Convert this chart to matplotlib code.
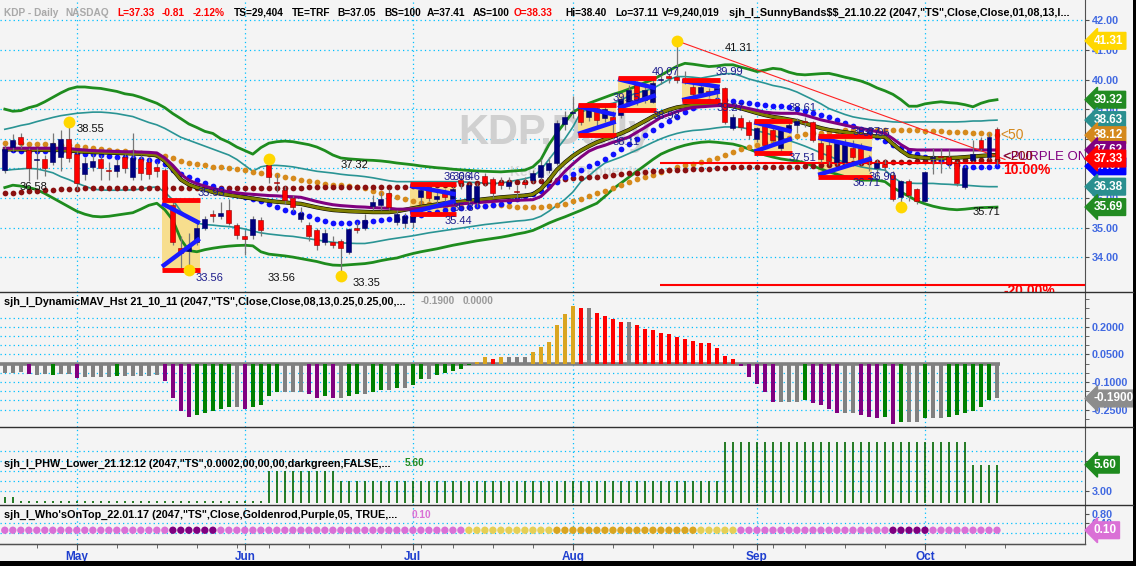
import numpy as np
import pandas as pd
import matplotlib
matplotlib.use("Agg")
import matplotlib.pyplot as plt
from matplotlib.transforms import blended_transform_factory
from matplotlib.lines import Line2D
from matplotlib.patches import Rectangle

plt.rcParams['font.family'] = ['Liberation Sans', 'DejaVu Sans']

# ---- trading days shown (KDP daily, 2022) ----
holidays = ['2022-05-30', '2022-06-20', '2022-07-04', '2022-09-05']
days = pd.bdate_range('2022-04-19', '2022-10-14')
days = days[~days.isin(pd.to_datetime(holidays))]
month_names = ['May', 'Jun', 'Jul', 'Aug', 'Sep', 'Oct']

# ---- price bars ----
opens = [36.95, 37.72, 38.05, 37.62, 37.28, 37.3, 37.2, 37.4, 38.0, 37.5,
         36.8, 37.05, 37.3, 36.95, 36.9, 37.4, 36.7, 37.3, 37.2, 37.05,
         36.95, 35.76, 34.3, 34.2, 34.5, 35.0, 35.45, 35.4, 35.6, 35.07,
         34.72, 34.74, 35.25, 37.1, 36.55, 36.26, 36.0, 35.3, 35.07, 34.9,
         34.5, 34.52, 34.55, 34.17, 35.0, 35.0, 35.72, 35.75, 36.16, 35.2,
         35.15, 35.18, 36.03, 36.37, 35.98, 36.2, 35.95, 36.62, 35.93, 35.85,
         36.75, 36.65, 36.55, 36.4, 36.22, 36.55, 36.6, 36.7, 36.95, 37.18,
         38.5, 38.88, 39.0, 38.75, 39.05, 38.7, 38.74, 38.8, 39.25, 39.8,
         39.3, 39.25, 40.0, 40.12, 40.08, 40.0, 39.75, 39.55, 39.6, 39.6,
         39.7, 38.35, 38.7, 38.57, 38.0, 38.53, 38.3, 37.7, 38.3, 38.48,
         38.6, 38.57, 37.85, 37.8, 37.2, 37.2, 37.68, 37.7, 37.3, 37.0,
         37.15, 36.77, 36.03, 36.57, 36.3, 35.9, 37.35, 37.4, 37.4, 37.17,
         36.37, 37.28, 37.95, 37.38, 38.33]
highs = [37.8, 38.15, 38.2, 37.7, 37.7, 37.45, 38.2, 38.3, 38.55, 37.6,
         37.4, 37.5, 37.45, 37.2, 37.3, 37.5, 38.2, 37.45, 37.35, 37.2,
         37.0, 35.9, 34.7, 34.8, 35.2, 35.4, 35.6, 35.85, 35.95, 35.15,
         34.9, 35.4, 35.35, 37.32, 36.8, 36.4, 36.1, 35.7, 35.2, 35.0,
         34.95, 34.7, 34.6, 35.0, 35.2, 35.45, 36.1, 36.2, 36.3, 35.6,
         35.5, 35.6, 36.4, 36.46, 36.2, 36.3, 36.4, 36.75, 36.5, 36.5,
         36.85, 36.7, 36.7, 36.7, 36.45, 36.7, 36.95, 37.3, 37.4, 38.65,
         38.95, 39.45, 39.1, 39.2, 39.15, 39.15, 38.95, 39.45, 39.8, 39.95,
         39.8, 40.0, 40.15, 40.2, 41.31, 40.3, 39.9, 39.85, 39.7, 39.8,
         39.75, 38.85, 38.8, 38.65, 38.4, 38.61, 38.4, 38.4, 38.55, 38.7,
         38.75, 38.6, 37.95, 37.95, 37.95, 38.0, 37.95, 37.87, 37.45, 37.3,
         37.3, 36.9, 36.6, 36.65, 36.35, 36.9, 37.7, 37.7, 37.65, 37.25,
         37.1, 37.95, 38.05, 38.2, 38.4]
lows = [36.85, 37.6, 37.7, 36.58, 36.65, 36.75, 37.1, 36.9, 37.2, 36.27,
        36.6, 36.9, 36.6, 36.6, 36.7, 36.85, 36.6, 36.6, 36.65, 36.7,
        35.9, 34.4, 33.6, 33.56, 34.4, 34.9, 35.2, 35.3, 35.1, 34.6,
        34.06, 34.6, 34.7, 36.5, 36.2, 35.8, 35.55, 35.2, 34.55, 34.25,
        34.4, 34.3, 33.35, 34.1, 34.8, 34.9, 35.6, 35.6, 35.6, 35.1,
        35.0, 35.0, 35.8, 35.9, 35.8, 35.8, 35.8, 36.3, 35.8, 35.7,
        36.4, 36.0, 36.3, 36.3, 36.0, 36.35, 36.5, 36.6, 36.85, 37.1,
        38.3, 38.7, 38.45, 38.6, 38.4, 38.55, 38.11, 38.7, 39.1, 39.15,
        39.2, 39.2, 39.85, 39.9, 39.9, 39.85, 39.35, 39.45, 39.4, 39.27,
        38.5, 38.3, 38.3, 38.0, 37.9, 37.7, 37.8, 37.51, 38.2, 38.2,
        38.4, 37.9, 37.2, 37.1, 37.1, 37.1, 37.3, 37.1, 36.9, 36.71,
        36.9, 35.9, 35.71, 35.9, 35.8, 35.85, 36.8, 36.85, 37.0, 36.4,
        36.3, 37.2, 37.6, 37.3, 37.11]
closes = [37.65, 37.95, 37.82, 37.0, 37.3, 37.0, 37.85, 38.0, 37.35, 36.5,
          37.18, 37.25, 37.0, 36.92, 37.12, 37.0, 37.35, 36.85, 36.8, 36.9,
          35.96, 34.5, 34.15, 34.35, 35.0, 35.28, 35.38, 35.5, 35.15, 34.73,
          34.6, 35.3, 34.9, 36.7, 36.5, 35.92, 35.7, 35.5, 34.7, 34.4,
          34.8, 34.4, 34.3, 34.94, 34.9, 35.25, 35.87, 35.95, 35.69, 35.45,
          35.4, 35.4, 36.27, 36.0, 36.05, 36.03, 36.3, 36.5, 36.43, 36.4,
          36.52, 36.15, 36.42, 36.55, 36.2, 36.48, 36.85, 37.1, 37.18, 38.53,
          38.72, 38.92, 38.56, 39.05, 38.65, 39.0, 38.55, 39.35, 39.65, 39.3,
          39.65, 39.9, 40.02, 40.05, 40.0, 39.98, 39.5, 39.75, 39.52, 39.7,
          38.57, 38.75, 38.4, 38.13, 38.36, 37.8, 37.95, 38.35, 38.47, 38.6,
          38.55, 37.96, 37.3, 37.25, 37.85, 37.85, 37.4, 37.2, 37.26, 37.17,
          37.05, 35.96, 36.57, 36.1, 35.9, 36.87, 37.4, 37.38, 37.15, 36.5,
          37.0, 37.5, 37.7, 38.05, 37.33]

# ---- SunnyBands study lines ----
upper_green = [39.0, 38.93, 38.95, 39.05, 39.12, 39.25, 39.4, 39.55, 39.68, 39.75,
               39.75, 39.72, 39.7, 39.65, 39.6, 39.52, 39.48, 39.4, 39.3, 39.2,
               39.05, 38.85, 38.68, 38.5, 38.38, 38.25, 38.18, 38.0, 37.88, 37.72,
               37.6, 37.48, 37.7, 37.85, 37.9, 37.92, 37.9, 37.85, 37.8, 37.72,
               37.6, 37.45, 37.35, 37.32, 37.3, 37.28, 37.27, 37.25, 37.22, 37.18,
               37.15, 37.12, 37.08, 37.05, 37.02, 37.0, 36.97, 36.95, 36.93, 36.91,
               36.9, 36.89, 36.88, 36.9, 36.92, 36.94, 37.05, 37.3, 37.8, 38.2,
               38.55, 38.9, 39.05, 39.2, 39.3, 39.4, 39.5, 39.58, 39.68, 39.78,
               39.9, 40.0, 40.15, 40.3, 40.45, 40.55, 40.52, 40.48, 40.44, 40.46,
               40.5, 40.5, 40.42, 40.35, 40.27, 40.32, 40.38, 40.35, 40.25, 40.18,
               40.16, 40.18, 40.2, 40.21, 40.15, 40.08, 40.02, 39.95, 39.85, 39.72,
               39.62, 39.5, 39.32, 39.1, 39.1, 39.18, 39.22, 39.25, 39.22, 39.2,
               39.15, 39.08, 39.2, 39.28, 39.32]
upper_teal = [38.32, 38.38, 38.45, 38.5, 38.58, 38.65, 38.72, 38.78, 38.82, 38.86,
              38.88, 38.9, 38.9, 38.88, 38.85, 38.8, 38.75, 38.65, 38.55, 38.47,
              38.35, 38.2, 38.05, 37.95, 37.85, 37.75, 37.65, 37.55, 37.45, 37.3,
              37.1, 36.9, 37.05, 37.1, 37.1, 37.08, 37.05, 37.0, 36.95, 36.9,
              36.87, 36.84, 36.8, 36.77, 36.75, 36.72, 36.68, 36.63, 36.58, 36.55,
              36.55, 36.55, 36.55, 36.55, 36.55, 36.55, 36.55, 36.55, 36.53, 36.52,
              36.5, 36.49, 36.5, 36.55, 36.6, 36.65, 36.72, 36.95, 37.3, 37.65,
              38.0, 38.4, 38.9, 39.0, 39.1, 39.15, 39.2, 39.3, 39.45, 39.55,
              39.62, 39.7, 39.85, 40.0, 40.1, 40.1, 40.08, 40.05, 40.1, 40.15,
              40.2, 40.2, 40.12, 40.02, 39.95, 39.88, 39.8, 39.75, 39.68, 39.58,
              39.45, 39.32, 39.18, 39.02, 38.92, 38.82, 38.74, 38.69, 38.65, 38.62,
              38.6, 38.57, 38.56, 38.56, 38.57, 38.57, 38.57, 38.57, 38.57, 38.57,
              38.58, 38.6, 38.6, 38.62, 38.63]
lower_teal = [36.93, 36.96, 36.98, 37.0, 36.98, 36.92, 36.85, 36.72, 36.62, 36.5,
              36.4, 36.3, 36.27, 36.26, 36.26, 36.27, 36.27, 36.3, 36.35, 36.37,
              36.2, 35.93, 35.55, 35.3, 35.15, 35.1, 35.08, 35.05, 35.03, 35.0,
              34.95, 34.88, 34.82, 34.78, 34.75, 34.72, 34.7, 34.66, 34.62, 34.58,
              34.54, 34.5, 34.48, 34.47, 34.46, 34.46, 34.5, 34.55, 34.6, 34.64,
              34.68, 34.72, 34.77, 34.82, 34.86, 34.9, 34.94, 34.98, 35.02, 35.06,
              35.1, 35.13, 35.16, 35.19, 35.22, 35.24, 35.28, 35.38, 35.55, 35.75,
              35.95, 36.2, 36.55, 36.75, 36.98, 37.18, 37.28, 37.38, 37.5, 37.62,
              37.75, 37.88, 38.0, 38.1, 38.18, 38.24, 38.28, 38.3, 38.33, 38.37,
              38.4, 38.4, 38.38, 38.33, 38.27, 38.2, 38.12, 38.03, 37.94, 37.85,
              37.75, 37.64, 37.52, 37.42, 37.3, 37.2, 37.12, 37.05, 37.0, 36.97,
              36.94, 36.7, 36.53, 36.5, 36.49, 36.49, 36.49, 36.47, 36.46, 36.44,
              36.43, 36.41, 36.39, 36.38, 36.38]
lower_green = [36.35, 36.43, 36.4, 36.35, 36.28, 36.15, 36.0, 35.85, 35.7, 35.55,
               35.45, 35.38, 35.36, 35.38, 35.42, 35.46, 35.5, 35.62, 35.75, 35.82,
               35.6, 35.25, 34.6, 34.22, 34.18, 34.25, 34.3, 34.34, 34.37, 34.39,
               34.4, 34.38, 34.18, 34.1, 34.07, 34.04, 34.0, 33.95, 33.9, 33.85,
               33.78, 33.73, 33.72, 33.74, 33.76, 33.78, 33.82, 33.88, 33.93, 33.97,
               34.05, 34.12, 34.18, 34.23, 34.28, 34.34, 34.4, 34.45, 34.5, 34.55,
               34.59, 34.63, 34.67, 34.72, 34.78, 34.83, 34.9, 35.02, 35.15, 35.26,
               35.36, 35.47, 35.58, 35.7, 35.82, 36.05, 36.3, 36.5, 36.7, 36.9,
               37.1, 37.3, 37.48, 37.6, 37.7, 37.78, 37.84, 37.88, 37.9, 37.88,
               37.85, 37.82, 37.75, 37.65, 37.55, 37.45, 37.38, 37.32, 37.28, 37.25,
               37.18, 37.08, 36.98, 36.88, 36.8, 36.72, 36.65, 36.6, 36.6, 36.6,
               36.55, 36.35, 36.2, 36.05, 35.9, 35.8, 35.72, 35.66, 35.62, 35.6,
               35.62, 35.65, 35.67, 35.68, 35.69]
orange_dots = [37.85, 37.85, 37.84, 37.83, 37.82, 37.81, 37.8, 37.79, 37.78, 37.75,
               37.72, 37.69, 37.66, 37.63, 37.6, 37.57, 37.55, 37.52, 37.49, 37.46,
               37.42, 37.35, 37.25, 37.18, 37.14, 37.1, 37.06, 37.03, 37.0, 36.97,
               36.93, 36.89, 36.85, 36.82, 36.77, 36.72, 36.66, 36.62, 36.58, 36.53,
               36.48, 36.44, 36.42, 36.4, 36.37, 36.32, 36.25, 36.17, 36.1, 36.03,
               35.97, 35.9, 35.84, 35.79, 35.75, 35.72, 35.7, 35.69, 35.7, 35.72,
               35.74, 35.76, 35.75, 35.73, 35.71, 35.7, 35.69, 35.7, 35.73, 35.77,
               35.81, 35.88, 35.96, 36.05, 36.15, 36.25, 36.35, 36.45, 36.55, 36.63,
               36.71, 36.79, 36.87, 36.95, 37.03, 37.1, 37.16, 37.2, 37.28, 37.35,
               37.45, 37.55, 37.64, 37.72, 37.8, 37.86, 37.92, 37.98, 38.04, 38.1,
               38.15, 38.18, 38.21, 38.24, 38.26, 38.28, 38.29, 38.3, 38.3, 38.3,
               38.3, 38.3, 38.29, 38.29, 38.28, 38.27, 38.26, 38.25, 38.24, 38.23,
               38.22, 38.2, 38.18, 38.15, 38.12]
maroon_dots = [36.16, 36.18, 36.2, 36.22, 36.24, 36.26, 36.28, 36.29, 36.3, 36.31,
               36.32, 36.32, 36.33, 36.33, 36.33, 36.33, 36.33, 36.33, 36.33, 36.33,
               36.33, 36.33, 36.33, 36.33, 36.33, 36.33, 36.34, 36.34, 36.34, 36.34,
               36.34, 36.34, 36.35, 36.35, 36.35, 36.35, 36.35, 36.35, 36.36, 36.36,
               36.36, 36.36, 36.37, 36.37, 36.37, 36.37, 36.37, 36.37, 36.37, 36.37,
               36.38, 36.39, 36.41, 36.42, 36.43, 36.44, 36.45, 36.47, 36.48, 36.5,
               36.51, 36.52, 36.53, 36.53, 36.54, 36.55, 36.56, 36.58, 36.6, 36.62,
               36.64, 36.66, 36.68, 36.7, 36.72, 36.75, 36.78, 36.8, 36.83, 36.85,
               36.88, 36.9, 36.92, 36.94, 36.95, 36.96, 36.97, 36.98, 36.99, 37.0,
               37.02, 37.03, 37.03, 37.04, 37.04, 37.04, 37.05, 37.05, 37.05, 37.05,
               37.07, 37.09, 37.1, 37.12, 37.14, 37.15, 37.17, 37.18, 37.2, 37.21,
               37.22, 37.22, 37.23, 37.23, 37.24, 37.24, 37.25, 37.25, 37.26, 37.26,
               37.27, 37.27, 37.28, 37.28, 37.28]
blue_dots = [37.62, 37.61, 37.6, 37.6, 37.59, 37.58, 37.57, 37.56, 37.54, 37.52,
             37.5, 37.47, 37.44, 37.42, 37.4, 37.37, 37.35, 37.32, 37.28, 37.24,
             37.15, 36.95, 36.8, 36.7, 36.6, 36.5, 36.4, 36.3, 36.2, 36.1,
             36.02, 35.95, 35.88, 35.8, 35.7, 35.6, 35.52, 35.45, 35.38, 35.3,
             35.22, 35.16, 35.14, 35.15, 35.17, 35.2, 35.23, 35.26, 35.28, 35.3,
             35.35, 35.38, 35.42, 35.48, 35.54, 35.6, 35.64, 35.67, 35.7, 35.72,
             35.74, 35.76, 35.8, 35.88, 35.97, 36.05, 36.12, 36.25, 36.4, 36.55,
             36.7, 36.82, 36.95, 37.07, 37.18, 37.33, 37.5, 37.66, 37.82, 37.98,
             38.13, 38.28, 38.45, 38.6, 38.75, 38.9, 39.05, 39.18, 39.27, 39.3,
             39.3, 39.28, 39.24, 39.2, 39.16, 39.14, 39.12, 39.1, 39.06, 39.02,
             38.95, 38.88, 38.8, 38.72, 38.62, 38.52, 38.42, 38.32, 38.2, 38.07,
             37.94, 37.8, 37.7, 37.6, 37.5, 37.4, 37.35, 37.27, 37.18, 37.1,
             37.04, 37.03, 37.04, 37.05, 37.07]
purple_line = [37.68, 37.68, 37.68, 37.68, 37.68, 37.68, 37.68, 37.68, 37.67, 37.64,
               37.62, 37.6, 37.59, 37.58, 37.57, 37.56, 37.56, 37.55, 37.54, 37.52,
               37.35, 37.1, 36.8, 36.6, 36.48, 36.4, 36.32, 36.26, 36.21, 36.17,
               36.14, 36.12, 36.1, 36.08, 36.07, 36.05, 36.04, 36.02, 35.95, 35.88,
               35.82, 35.77, 35.74, 35.72, 35.7, 35.69, 35.67, 35.66, 35.65, 35.62,
               35.62, 35.63, 35.65, 35.68, 35.7, 35.73, 35.76, 35.8, 35.82, 35.84,
               35.86, 35.88, 35.9, 35.91, 35.92, 35.93, 35.94, 36.05, 36.3, 36.6,
               36.9, 37.15, 37.38, 37.58, 37.7, 37.78, 37.88, 37.96, 38.06, 38.22,
               38.38, 38.55, 38.72, 38.82, 38.92, 39.0, 39.06, 39.08, 39.1, 39.12,
               39.13, 39.12, 39.08, 39.02, 38.96, 38.9, 38.87, 38.86, 38.86, 38.86,
               38.8, 38.72, 38.64, 38.58, 38.52, 38.46, 38.4, 38.35, 38.3, 38.24,
               38.18, 38.0, 37.8, 37.64, 37.62, 37.62, 37.62, 37.62, 37.62, 37.62,
               37.62, 37.62, 37.62, 37.62, 37.62]
olive_line = [37.64, 37.64, 37.64, 37.63, 37.63, 37.62, 37.62, 37.62, 37.6, 37.58,
              37.56, 37.55, 37.54, 37.53, 37.52, 37.51, 37.5, 37.49, 37.47, 37.44,
              37.25, 36.95, 36.62, 36.45, 36.35, 36.28, 36.2, 36.14, 36.1, 36.06,
              36.02, 35.98, 35.94, 35.9, 35.87, 35.85, 35.82, 35.8, 35.74, 35.68,
              35.63, 35.59, 35.57, 35.55, 35.54, 35.53, 35.52, 35.52, 35.52, 35.55,
              35.6, 35.65, 35.7, 35.74, 35.78, 35.82, 35.85, 35.87, 35.9, 35.93,
              35.96, 35.99, 36.02, 36.04, 36.06, 36.08, 36.12, 36.3, 36.6, 36.95,
              37.2, 37.42, 37.6, 37.75, 37.88, 37.98, 38.08, 38.18, 38.3, 38.45,
              38.6, 38.75, 38.88, 38.98, 39.06, 39.1, 39.13, 39.14, 39.15, 39.15,
              39.14, 39.1, 39.03, 38.95, 38.87, 38.8, 38.74, 38.7, 38.65, 38.6,
              38.52, 38.44, 38.36, 38.3, 38.26, 38.22, 38.18, 38.14, 38.1, 38.08,
              38.06, 37.82, 37.6, 37.42, 37.38, 37.35, 37.34, 37.34, 37.35, 37.36,
              37.38, 37.4, 37.42, 37.44, 37.45]

# pattern boxes (bar index range, top / bottom price)
box_start = [20, 51, 72, 77, 85, 94, 102]
box_end = [24, 56, 76, 81, 89, 98, 108]
box_top = [35.93, 36.46, 39.15, 40.07, 39.99, 38.61, 38.1]
box_bottom = [33.56, 35.44, 38.11, 38.98, 39.27, 37.51, 36.71]

# swing highs / lows
swing_k = [8, 23, 33, 42, 84, 112]
swing_p = [38.55, 33.56, 37.32, 33.35, 41.31, 35.71]

# price labels on the chart: text, bar position, price position, colour key
label_text = ['38.55', '36.58', '35.93', '33.56', '33.56', '37.32', '33.35', '36.06', '36.46',
              '35.8', '35.44', '39.15', '38.11', '40.07', '38.98', '41.31', '39.99', '39.27',
              '38.61', '37.51', '38.87', '37.95', '36.90', '36.71', '35.71']
label_k = [9.0, 1.9, 24.05, 23.9, 32.9, 41.9, 43.4, 54.8, 55.9, 55.9, 55.0, 76.0, 76.0, 80.9,
           81.0, 90.0, 88.8, 89.0, 97.9, 97.9, 105.9, 107.2, 107.9, 105.9, 120.9]
label_p = [38.33, 36.37, 36.16, 33.29, 33.29, 37.11, 33.12, 36.71, 36.71, 35.66, 35.22, 39.38,
           37.89, 40.26, 38.77, 41.07, 40.26, 39.04, 39.04, 37.35, 38.23, 38.19, 36.71, 36.5,
           35.52]
label_kind = ['s', 's', 'b', 'b', 's', 's', 's', 'b', 'b', 'b', 'b', 'b', 'b', 'b', 'b', 's',
              'b', 'b', 'b', 'b', 'b', 'b', 'b', 'b', 's']

retrace_levels = [37.18, 33.05]
trend_k = [84, 125]
trend_p = [41.31, 37.3]

# ---- DynamicMAV histogram ----
hist = [-0.05, -0.05, -0.045, -0.055, -0.06, -0.055, -0.06, -0.055, -0.055, -0.078,
        -0.075, -0.075, -0.075, -0.075, -0.068, -0.068, -0.068, -0.068, -0.068, -0.062,
        -0.094, -0.185, -0.258, -0.29, -0.28, -0.27, -0.258, -0.248, -0.235, -0.235,
        -0.245, -0.235, -0.225, -0.178, -0.154, -0.154, -0.154, -0.154, -0.165, -0.187,
        -0.178, -0.187, -0.187, -0.176, -0.165, -0.165, -0.154, -0.143, -0.143, -0.132,
        -0.132, -0.116, -0.083, -0.083, -0.062, -0.051, -0.04, -0.03, -0.006, 0.008,
        0.033, 0.027, 0.033, 0.033, 0.033, 0.033, 0.062, 0.088, 0.118, 0.21,
        0.272, 0.312, 0.3, 0.3, 0.277, 0.26, 0.24, 0.228, 0.228, 0.207,
        0.19, 0.18, 0.168, 0.158, 0.147, 0.136, 0.125, 0.114, 0.109, 0.087,
        0.043, 0.027, -0.014, -0.074, -0.109, -0.156, -0.21, -0.21, -0.21, -0.21,
        -0.2, -0.216, -0.226, -0.248, -0.27, -0.27, -0.27, -0.28, -0.29, -0.297,
        -0.29, -0.33, -0.32, -0.32, -0.32, -0.297, -0.297, -0.297, -0.29, -0.28,
        -0.27, -0.26, -0.237, -0.2, -0.19]
hist_state = ("gggpggGggp" "ggggGggggg" "ppppGGGGGg" "pGGGGgggpp" "GpgGGgGGgG"
              "gGGgGGGGGo" "orogggoooo" "oorgrrrrgr" "rrrrrrrrrr" "rrpppppggg"
              "Gppppggppp" "GpGggGggGG" "GGGGg")

# ---- PHW lower ----
phw = [2.4, 2.4, 1.95, 1.95, 1.95, 1.95, 1.95, 1.95, 1.95, 1.95,
       1.95, 1.95, 1.95, 1.95, 1.95, 1.95, 1.95, 1.95, 1.95, 1.95,
       1.95, 1.95, 1.95, 1.95, 1.95, 1.95, 1.95, 1.95, 1.95, 1.95,
       1.95, 1.95, 1.95, 5.0, 5.0, 5.0, 5.0, 5.0, 5.0, 5.0,
       5.0, 5.0, 4.0, 4.0, 4.0, 4.0, 4.0, 4.0, 4.0, 4.0,
       4.0, 4.0, 4.0, 4.0, 4.0, 4.0, 4.0, 4.0, 4.0, 4.0,
       4.0, 4.0, 4.0, 4.0, 4.0, 4.0, 4.0, 4.0, 4.0, 4.0,
       4.0, 4.0, 4.0, 4.0, 4.0, 4.0, 4.0, 4.0, 4.0, 4.0,
       4.0, 4.0, 4.0, 4.0, 4.0, 4.0, 4.0, 4.0, 4.0, 4.0,
       7.9, 7.9, 7.9, 7.9, 7.9, 7.9, 7.9, 7.9, 7.9, 7.9,
       7.9, 7.9, 7.9, 7.9, 7.9, 7.9, 7.9, 7.9, 7.9, 7.9,
       7.9, 7.9, 7.9, 7.9, 7.9, 7.9, 7.9, 7.9, 7.9, 7.9,
       7.9, 5.6, 5.6, 5.6, 5.6]
phw_base = 1.8

# ---- Who's on top ----
wot_level = 0.10
wot_state = ("oooooooooo" "oooooooooo" "oddddddooo" "oooooooooo" "oooooooooo"
             "ooooooookk" "kkkkkkkkky" "yyyyyyyyyy" "yyyyyyykkk" "kkoooooooo"
             "oooooooooo" "odddddoooo" "ooooo")

# right-hand value tags
main_tag_val = [41.31, 39.32, 38.63, 38.12, 37.62, 37.07, 37.33, 36.38, 35.69]
main_tag_col = ['#FFD700', '#228B22', '#2A8F8F', '#D4881C', '#800080', '#0000FF', '#FF0000',
                '#2A8F8F', '#228B22']

# ---- figure ----
W, H = 1136, 566
AXR = 1085
BG = '#F4F4F4'
GRID = '#00BFFF'
TICKC = '#4169E1'
fig = plt.figure(figsize=(W / 100, H / 100), dpi=100, facecolor=BG)


def panel(top, bottom):
    a = fig.add_axes([0, 1 - bottom / H, AXR / W, (bottom - top) / H])
    a.set_facecolor(BG)
    a.set_xlim(-0.6, 135.0)
    for s in ['top', 'left', 'bottom']:
        a.spines[s].set_visible(False)
    a.spines['right'].set_color('#505050')
    a.yaxis.tick_right()
    a.tick_params(axis='y', which='both', colors='#505050', labelcolor=TICKC,
                  labelsize=7.8, length=3, pad=2)
    a.tick_params(axis='x', which='both', bottom=False, labelbottom=False)
    return a


ax = panel(0, 292)
axh = panel(292, 427)
axp = panel(427, 505)
axw = panel(505, 544)

n = len(closes)
x = np.arange(n)
o = np.array(opens); c = np.array(closes); hi = np.array(highs); lo = np.array(lows)

month_idx = [i for i in range(1, n) if days[i].month != days[i - 1].month]
week_idx = [i for i in range(1, n) if days[i].weekday() < days[i - 1].weekday() and i not in month_idx]
week_idx.append(n)

dot_ls = (0, (1, 2.5))
for a in [ax, axh, axp, axw]:
    for m in month_idx:
        a.axvline(m, color=GRID, ls=dot_ls, lw=0.9, zorder=0.5)

# main panel
ax.set_ylim(32.82, 42.69)
ax.hlines(np.arange(34, 43), -0.6, 135, colors=GRID, linestyles=dot_ls, lw=0.9, zorder=0.5)
ax.set_yticks(np.arange(34, 43))
ax.set_yticklabels(['%.2f' % v for v in np.arange(34, 43)], fontweight='bold')

ax.text(458 / AXR, 1 - 133 / 292, 'KDP,Daily', transform=ax.transAxes, fontsize=30,
        fontweight='bold', color='#D0D0D0', va='center', ha='left', zorder=0.6)
ax.text(510 / AXR, 1 - 172 / 292, 'Keurig Dr Pepper Inc', transform=ax.transAxes, fontsize=10,
        fontweight='bold', color='#D8D8D8', va='center', ha='left', zorder=0.6)

for s, e, t, b in zip(box_start, box_end, box_top, box_bottom):
    ax.add_patch(Rectangle((s - 0.35, b), e - s + 0.7, t - b, fc='#F7DE8E', ec='none', zorder=1))

ax.plot(x, upper_green, color='#1E8C1E', lw=2.0, zorder=2)
ax.plot(x, lower_green, color='#1E8C1E', lw=2.0, zorder=2)
ax.plot(x, upper_teal, color='#2A9494', lw=1.2, zorder=2)
ax.plot(x, lower_teal, color='#2A9494', lw=1.2, zorder=2)
ax.scatter(x, orange_dots, s=17, color='#D68A1C', lw=0, zorder=3)
ax.scatter(x, maroon_dots, s=17, color='#8B1010', lw=0, zorder=3)
ax.scatter(x, blue_dots, s=17, color='#1010FF', lw=0, zorder=3)
ax.plot(x, olive_line, color='#000000', lw=3.0, zorder=3.4)
ax.plot(x, olive_line, color='#808000', lw=2.2, zorder=3.5)
ax.plot(x, purple_line, color='#800080', lw=2.2, zorder=3.6)

for lvl in retrace_levels:
    ax.hlines(lvl, 81.9, 127.5 if lvl > 35 else 135, color='#FF0000', lw=1.5, zorder=3.7)
ax.plot(trend_k, trend_p, color='#FF2020', lw=0.8, zorder=3.7)

up = c >= o
body_lo = np.minimum(o, c)
body_h = np.maximum(np.abs(c - o), 0.03)
ax.vlines(x, lo, hi, color='#777777', lw=0.9, zorder=4)
ax.bar(x[up], body_h[up], bottom=body_lo[up], width=0.62, color='#000080',
       edgecolor='#000060', lw=0.4, zorder=5)
ax.bar(x[~up], body_h[~up], bottom=body_lo[~up], width=0.62, color='#FF0000',
       edgecolor='#900000', lw=0.4, zorder=5)

for s, e, t, b in zip(box_start, box_end, box_top, box_bottom):
    hgt = t - b
    ax.plot([s - 0.35, e + 0.35], [t - 0.05 * hgt, t - 0.33 * hgt], color='#1A1AFF', lw=3.2,
            solid_capstyle='butt', zorder=6)
    ax.plot([s - 0.35, e + 0.35], [b + 0.05 * hgt, b + 0.45 * hgt], color='#1A1AFF', lw=3.2,
            solid_capstyle='butt', zorder=6)
    ax.hlines([t, b], s - 0.35, e + 0.35, color='#FF0000', lw=3.5, zorder=6.5)

ax.plot(swing_k, swing_p, 'o', ms=8.5, color='#FFD700', mec='none', zorder=7)

for t, k, p, kind in zip(label_text, label_k, label_p, label_kind):
    ax.text(k, p, t, fontsize=8, color='#111111' if kind == 's' else '#1C1C8C',
            va='center', ha='left', zorder=8)

ax.text(124.4, 38.12, '<50', fontsize=10, color='#D4881C', va='center', ha='left', zorder=8,
        clip_on=True)
ax.text(124.8, 37.38, '<PURPLE ON TOP', fontsize=9.5, color='#800080', va='center', ha='left',
        zorder=8, clip_on=True)
ax.text(124.8, 37.38, '<200', fontsize=9.5, color='#8B1010', va='center', ha='left', zorder=8,
        clip_on=True)
ax.text(124.8, 36.94, '10.00%', fontsize=10, color='#FF0000', fontweight='bold', va='center',
        ha='left', zorder=8, clip_on=True)
ax.text(124.8, 32.85, '-20.00%', fontsize=10, color='#FF0000', fontweight='bold', va='center',
        ha='left', zorder=8, clip_on=True)

# histogram panel
hcol = {'g': '#808080', 'p': '#800080', 'G': '#008000', 'o': '#DAA520', 'r': '#FF0000'}
axh.set_ylim(-0.345, 0.389)
hgrid = [v for v in np.round(np.arange(-0.25, 0.26, 0.05), 2) if abs(v) > 1e-9]
axh.hlines(hgrid, -0.6, 135, colors=GRID, linestyles=dot_ls, lw=0.9, zorder=0.5)
axh.bar(x, hist, width=0.45, color=[hcol[s] for s in hist_state], zorder=3)
axh.hlines(0, -0.6, 124.4, color='#808080', lw=2.6, zorder=2.5)
axh.set_yticks([-0.25, -0.1, 0.05, 0.2])
axh.set_yticklabels(['-0.2500', '-0.1000', '0.0500', '0.2000'], fontweight='bold')
axh.set_yticks(np.round(np.arange(-0.3, 0.36, 0.05), 2), minor=True)

# PHW panel
axp.set_ylim(1.57, 9.37)
axp.hlines([3, 4, 5, 6, 7], -0.6, 135, colors=GRID, linestyles=dot_ls, lw=0.9, zorder=0.5)
axp.vlines(x, phw_base, phw, color='#006400', lw=1.2, zorder=3)
axp.set_yticks([3, 6])
axp.set_yticklabels(['3.00', '6.00'], fontweight='bold')

# who's on top panel
wcol = {'o': '#DA70D6', 'd': '#800080', 'k': '#E6CF55', 'y': '#DAA520'}
axw.set_ylim(-0.5, 1.2)
axw.hlines([0.4, 0.0], -0.6, 135, colors=GRID, linestyles=dot_ls, lw=0.9, zorder=0.5)
axw.scatter(x, np.full(n, wot_level), s=28, c=[wcol[s] for s in wot_state], lw=0, zorder=3)
axw.set_yticks([0.4, 0.8])
axw.set_yticklabels(['0.40', '0.80'], fontweight='bold')
axw.spines['bottom'].set_visible(True)
axw.spines['bottom'].set_color('#505050')
axw.set_xticks(month_idx)
axw.set_xticklabels(month_names, fontsize=8.5, fontweight='bold', color='#1F3FCF')
axw.set_xticks(week_idx, minor=True)
axw.tick_params(axis='x', which='major', bottom=True, labelbottom=True, length=4, pad=1,
                color='#505050')
axw.tick_params(axis='x', which='minor', bottom=True, length=3, color='#505050')


# value tags on right axis
def tag(a, val, text, color):
    tr = blended_transform_factory(a.transAxes, a.transData)
    a.text(1 + 9 / AXR, val, text, transform=tr, fontsize=8.5, fontweight='bold', color='white',
           va='center', ha='left', zorder=20, clip_on=False,
           bbox=dict(boxstyle='larrow,pad=0.2', fc=color, ec=color))


for v, col in zip(main_tag_val, main_tag_col):
    tag(ax, v, '%.2f' % v, col)
tag(axh, hist[-1], '%.4f' % hist[-1], '#8C8C8C')
tag(axp, phw[-1], '%.2f' % phw[-1], '#1E8B1E')
tag(axw, wot_level, '%.2f' % wot_level, '#DA70D6')

# header and study titles (placed by baseline)
FS = 7.3
FS_LONG = 7.8


def ftext(xp, yp, s, color, size=FS):
    fig.text(xp / W, 1 - yp / H, s, fontsize=size, fontweight='bold', color=color,
             va='baseline', ha='left', zorder=30, parse_math=False)


header = [(3.6, 'KDP - Daily', '#A9A9A9'), (65, 'NASDAQ', '#A9A9A9'), (117, 'L=37.33', '#FF0000'),
          (162, '-0.81', '#FF0000'), (193, '-2.12%', '#FF0000'), (234, 'TS=29,404', '#000000'),
          (292, 'TE=TRF', '#000000'), (337, 'B=37.05', '#000000'), (384, 'BS=100', '#000000'),
          (427, 'A=37.41', '#000000'), (473, 'AS=100', '#000000'), (514, 'O=38.33', '#FF0000'),
          (565, 'Hi=38.40', '#000000'), (615, 'Lo=37.11', '#000000'),
          (662, 'V=9,240,019', '#000000')]
for xp, s, col in header:
    ftext(xp, 15.5, s, col)
ftext(729, 15.5, 'sjh_I_SunnyBands$$_21.10.22 (2047,"TS",Close,Close,01,08,13,l...', '#000000',
      FS_LONG)

ftext(3.6, 304.5, 'sjh_I_DynamicMAV_Hst 21_10_11 (2047,"TS",Close,Close,08,13,0.25,0.25,00,...',
      '#000000', FS_LONG)
ftext(421, 304.5, '-0.1900', '#9A9A9A')
ftext(463, 304.5, '0.0000', '#9A9A9A')
ftext(3.6, 466.5, 'sjh_I_PHW_Lower_21.12.12 (2047,"TS",0.0002,00,00,00,darkgreen,FALSE,...',
      '#000000', FS_LONG)
ftext(405, 466.5, '5.60', '#228B22')
ftext(3.6, 517.5, "sjh_I_Who'sOnTop_22.01.17 (2047,\"TS\",Close,Goldenrod,Purple,05, TRUE,...",
      '#000000', FS_LONG)
ftext(412, 517.5, '0.10', '#DA70D6')

# panel separators and frame
for yp in [292, 427, 505]:
    fig.add_artist(Line2D([0, 1133 / W], [1 - yp / H, 1 - yp / H], color='#303030', lw=1))
fig.add_artist(Line2D([0, AXR / W], [1 - 544 / H, 1 - 544 / H], color='#505050', lw=1))
fig.add_artist(Rectangle((1133 / W, 0), 3 / W, 1, transform=fig.transFigure, fc='#000000',
                         ec='none'))
fig.add_artist(Rectangle((0, 0), 1, 5 / H, transform=fig.transFigure, fc='#000000', ec='none'))

fig.savefig('out.png', dpi=100, facecolor=BG)
